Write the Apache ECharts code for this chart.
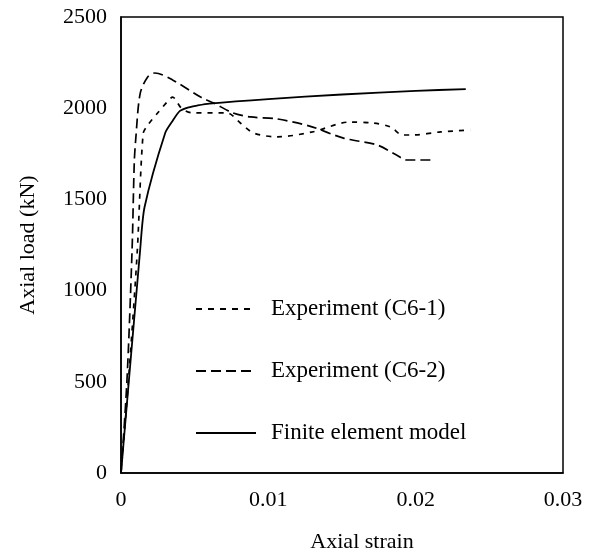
<!DOCTYPE html>
<html>
<head>
<meta charset="utf-8">
<script src="https://cdn.jsdelivr.net/npm/echarts@6/dist/echarts.min.js"></script>
<style>
  html, body { margin: 0; padding: 0; background: #fff; }
  #chart { width: 589px; height: 560px; }
</style>
</head>
<body>
<div id="chart"></div>
<script>
// Load–strain curves for column C6: two tests and the FE model
const strainC61 = [0, 0.0005, 0.0011, 0.0015, 0.0018, 0.0025, 0.0032, 0.0035, 0.0041, 0.0048, 0.0072, 0.0081, 0.009, 0.0106, 0.013, 0.0155, 0.0171, 0.0183, 0.0191, 0.0198, 0.0217, 0.0237];
const loadC61   = [0, 500, 1210, 1860, 1905, 1975, 2040, 2061, 2000, 1975, 1974, 1919, 1864, 1843, 1870, 1924, 1919, 1897, 1853, 1853, 1870, 1880];

const strainC62 = [0, 0.0004, 0.00075, 0.0009, 0.001, 0.0013, 0.0018, 0.0023, 0.0035, 0.0054, 0.0063, 0.0076, 0.0088, 0.0106, 0.0128, 0.0151, 0.0174, 0.0187, 0.0194, 0.021];
const loadC62   = [0, 500, 1220, 1700, 1830, 2080, 2170, 2193, 2155, 2061, 2028, 1974, 1952, 1941, 1902, 1836, 1798, 1743, 1716, 1716];

const strainFE = [0, 0.0013, 0.0016, 0.003, 0.0035, 0.004, 0.0046, 0.0052, 0.006, 0.01, 0.015, 0.02, 0.0234];
const loadFE   = [0, 1223, 1458, 1864, 1930, 1985, 2005, 2015, 2025, 2050, 2075, 2095, 2105];

const xTicks = [0, 0.01, 0.02, 0.03];
const yTicks = [0, 500, 1000, 1500, 2000, 2500];

const names = ['Experiment (C6-1)', 'Experiment (C6-2)', 'Finite element model'];
const dashes = [[5, 6], [10, 5], 'solid'];

const pairs = (xs, ys) => xs.map((x, i) => [x, ys[i]]);
const font = 'Liberation Serif, Times New Roman, serif';

const chart = echarts.init(document.getElementById('chart'), null, { renderer: 'canvas' });

const lineSeries = (name, data, type, width, smooth) => ({
  name,
  type: 'line',
  data,
  symbol: 'none',
  smooth,
  lineStyle: { color: '#000', width, type },
  itemStyle: { color: '#000' },
  z: 3
});

chart.setOption({
  animation: false,
  backgroundColor: '#fff',
  textStyle: { fontFamily: font, color: '#000' },
  grid: {
    left: 121, right: 26, top: 17, bottom: 87,
    show: true, borderColor: '#000', borderWidth: 1.5
  },
  xAxis: {
    type: 'value',
    min: xTicks[0], max: xTicks[xTicks.length - 1], interval: 0.01,
    name: 'Axial strain',
    nameLocation: 'middle',
    nameGap: 58,
    nameTextStyle: { fontFamily: font, fontSize: 22, color: '#000', padding: [0, 0, 0, 40] },
    axisLine: { show: true, lineStyle: { color: '#000', width: 1.5 } },
    axisTick: { show: false },
    splitLine: { show: false },
    axisLabel: {
      fontFamily: font, fontSize: 22, color: '#000', margin: 16,
      formatter: v => String(+v.toFixed(4))
    }
  },
  yAxis: {
    type: 'value',
    min: yTicks[0], max: yTicks[yTicks.length - 1], interval: 500,
    name: 'Axial load (kN)',
    nameLocation: 'middle',
    nameGap: 82,
    nameTextStyle: { fontFamily: font, fontSize: 22, color: '#000' },
    axisLine: { show: true, lineStyle: { color: '#000', width: 1.5 } },
    axisTick: { show: false },
    splitLine: { show: false },
    axisLabel: {
      fontFamily: font, fontSize: 22, color: '#000', margin: 14,
      formatter: v => String(v)
    }
  },
  legend: {
    orient: 'vertical',
    left: 195,
    top: 296,
    padding: 0,
    itemWidth: 60,
    itemHeight: 14,
    itemGap: 36,
    data: [
      { name: names[0], lineStyle: { type: [6, 6], width: 2 } },
      { name: names[1], lineStyle: { type: [10, 5], width: 2 } },
      { name: names[2], lineStyle: { width: 2 } }
    ],
    itemStyle: { color: 'transparent', borderColor: 'transparent', borderWidth: 0 },
    textStyle: { fontFamily: font, fontSize: 23, color: '#000', lineHeight: 26, padding: [0, 0, 0, 10] }
  },
  series: [
    lineSeries(names[0], pairs(strainC61, loadC61), dashes[0], 1.7, 0.3),
    lineSeries(names[1], pairs(strainC62, loadC62), dashes[1], 1.7, 0.3),
    lineSeries(names[2], pairs(strainFE, loadFE), dashes[2], 1.8, 0.25)
  ]
});
</script>
</body>
</html>
